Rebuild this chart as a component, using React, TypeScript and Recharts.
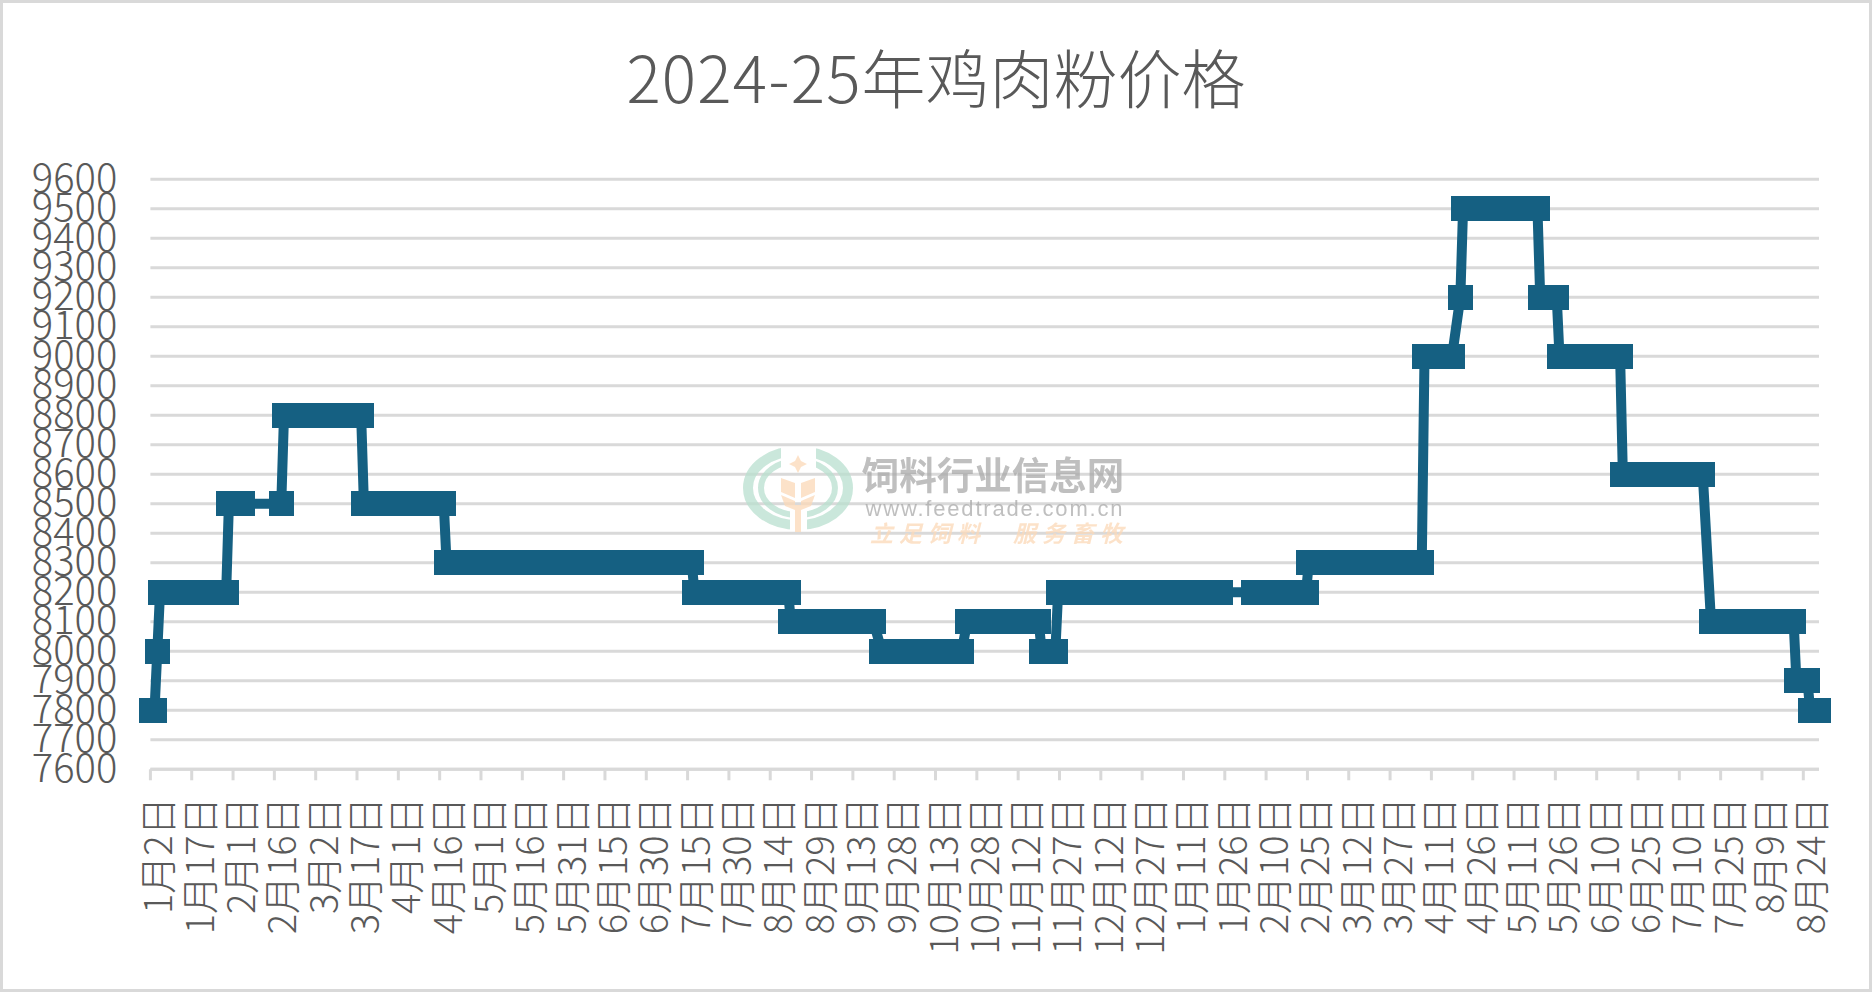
import { LineChart, Line, XAxis, YAxis, CartesianGrid } from "recharts";

const FONT = '"Noto Sans CJK SC", "Noto Sans", sans-serif';
const TEXT = "#595959";
const GRID = "#d9d9d9";
const LINE = "#156082";

const titleYears = "2024-25";
const titleName = "年鸡肉粉价格";

const tickLabels = [
  "1月2日", "1月17日", "2月1日", "2月16日", "3月2日", "3月17日", "4月1日", "4月16日", "5月1日", "5月16日", "5月31日",
  "6月15日", "6月30日", "7月15日", "7月30日", "8月14日", "8月29日", "9月13日", "9月28日", "10月13日", "10月28日",
  "11月12日", "11月27日", "12月12日", "12月27日", "1月11日", "1月26日", "2月10日", "2月25日", "3月12日", "3月27日",
  "4月11日", "4月26日", "5月11日", "5月26日", "6月10日", "6月25日", "7月10日", "7月25日", "8月9日", "8月24日",
];
const tickDays = [
  0, 15, 30, 45, 60, 75, 90, 105, 120, 135, 150, 165, 180, 195, 210, 225, 240, 255, 270, 285, 300,
  315, 330, 345, 360, 375, 390, 405, 420, 435, 450, 465, 480, 495, 510, 525, 540, 555, 570, 585, 600,
];
const priceTicks = [
  7600, 7700, 7800, 7900, 8000, 8100, 8200, 8300, 8400, 8500, 8600, 8700, 8800, 8900, 9000, 9100, 9200, 9300, 9400,
  9500, 9600,
];

// days since 2 Jan 2024, same order as prices below
const days = [
  0, 1,
  2,
  3, 10, 17, 22, 27,
  28, 33,
  47,
  48, 55, 62, 69, 76,
  77, 84, 91, 98, 102, 106,
  107, 114, 121, 128, 135, 142, 149, 156, 163, 170, 177, 184, 190, 196,
  197, 204, 211, 218, 225, 231,
  232, 239, 246, 253, 258, 262,
  265, 272, 279, 286, 290, 294,
  296, 303, 310, 317, 322,
  323, 328,
  329, 336, 343, 350, 357, 364, 371, 378, 383, 388,
  400, 407, 414, 419,
  420, 427, 434, 441, 448, 455, 461,
  462, 467, 472,
  475,
  476, 483, 490, 497, 503,
  504, 510,
  511, 518, 525, 529, 533,
  534, 541, 548, 555, 559, 563,
  566, 573, 580, 587, 592, 596,
  597, 601,
  602, 605,
];
const prices = [
  7800, 7800,
  8000,
  8200, 8200, 8200, 8200, 8200,
  8500, 8500,
  8500,
  8800, 8800, 8800, 8800, 8800,
  8500, 8500, 8500, 8500, 8500, 8500,
  8300, 8300, 8300, 8300, 8300, 8300, 8300, 8300, 8300, 8300, 8300, 8300, 8300, 8300,
  8200, 8200, 8200, 8200, 8200, 8200,
  8100, 8100, 8100, 8100, 8100, 8100,
  8000, 8000, 8000, 8000, 8000, 8000,
  8100, 8100, 8100, 8100, 8100,
  8000, 8000,
  8200, 8200, 8200, 8200, 8200, 8200, 8200, 8200, 8200, 8200,
  8200, 8200, 8200, 8200,
  8300, 8300, 8300, 8300, 8300, 8300, 8300,
  9000, 9000, 9000,
  9200,
  9500, 9500, 9500, 9500, 9500,
  9200, 9200,
  9000, 9000, 9000, 9000, 9000,
  8600, 8600, 8600, 8600, 8600, 8600,
  8100, 8100, 8100, 8100, 8100, 8100,
  7900, 7900,
  7800, 7800,
];

// excel date axis puts a point in the middle of its day
const chartData = days.map((d, i) => ({ pos: d + 0.5, price: prices[i] }));

function SquareDot({ cx, cy }: { cx?: number; cy?: number }) {
  // crisp edges so overlapping squares read as one solid bar
  return <rect x={(cx ?? 0) - 12.5} y={(cy ?? 0) - 12.5} width={25} height={25} fill={LINE} shapeRendering="crispEdges" />;
}

function DateTick({ x, y, payload }: { x?: number; y?: number; payload?: { value: number } }) {
  const label = tickLabels[tickDays.indexOf(payload?.value ?? 0)];
  const tx = (x ?? 0) + 5.5;
  const ty = (y ?? 0) + 15;
  return (
    <text
      x={tx}
      y={ty}
      transform={`rotate(-90 ${tx} ${ty})`}
      textAnchor="end"
      dominantBaseline="central"
      fontFamily={FONT}
      fontWeight={300}
      fontSize={38}
      fill={TEXT}
    >
      {label}
    </text>
  );
}

function Watermark() {
  return (
    <svg width={1872} height={992} style={{ position: "absolute", left: 0, top: 0, pointerEvents: "none" }}>
      <defs>
        <mask id="ringGap">
          <rect x={730} y={430} width={140} height={120} fill="#fff" />
          <rect x={781} y={430} width={35} height={50} fill="#000" />
          <rect x={790} y={490} width={17} height={60} fill="#000" />
        </mask>
      </defs>
      <g opacity={0.75} fill="none" stroke="#b9e0cf" mask="url(#ringGap)">
        <ellipse cx={798} cy={488} rx={50} ry={37} strokeWidth={10} />
        <ellipse cx={798} cy={488} rx={37} ry={27} strokeWidth={6} />
      </g>
      <g fill="#fcd9b8" opacity={0.75}>
        <path d="M798 455 L801 461 L807 464 L801 467 L798 473 L795 467 L789 464 L795 461 Z" />
        <path d="M781 478 L795 483 L795 498 L781 492 Z" />
        <path d="M815 478 L801 483 L801 498 L815 492 Z" />
        <path d="M781 495 L795 501 L795 510 L785 506 Z" />
        <path d="M815 495 L801 501 L801 510 L811 506 Z" />
        <rect x={795} y={505} width={6} height={27} />
      </g>
      <g fontFamily={FONT}>
        <text x={993} y={489} textAnchor="middle" fontSize={37.5} fontWeight={700} fill="#aaaaaa" opacity={0.75}>
          饲料行业信息网
        </text>
        <text
          x={994}
          y={516}
          textAnchor="middle"
          fontSize={22}
          fontFamily='"Liberation Sans", sans-serif'
          fill="#aaaaaa"
          opacity={0.75}
          textLength={257}
        >
          www.feedtrade.com.cn
        </text>
        <g fontSize={23} fontWeight={700} fontStyle="italic" fill="#fcd9b8" opacity={0.75} letterSpacing={6}>
          <text x={870} y={542}>立足饲料</text>
          <text x={1013} y={542}>服务畜牧</text>
        </g>
      </g>
    </svg>
  );
}

export default function App() {
  return (
    <div style={{ position: "absolute", left: 0, top: 0, width: 1872, height: 992, background: "#fff", overflow: "hidden" }}>
      <LineChart width={1872} height={992} data={chartData} margin={{ top: 179.3, right: 53, bottom: 0, left: 0 }}>
        <text x={936} y={75} textAnchor="middle" dominantBaseline="central" fontFamily={FONT} fontWeight={300} fontSize={64} fill={TEXT}>
          <tspan letterSpacing={1.2}>{titleYears}</tspan>
          <tspan>{titleName}</tspan>
        </text>
        <CartesianGrid vertical={false} stroke={GRID} strokeWidth={3} />
        <XAxis
          dataKey="pos"
          type="number"
          domain={[0, 605.7]}
          ticks={tickDays}
          interval={0}
          height={222.7}
          tickSize={11}
          axisLine={{ stroke: GRID, strokeWidth: 3 }}
          tickLine={{ stroke: GRID, strokeWidth: 3 }}
          tick={<DateTick />}
        />
        <YAxis
          type="number"
          domain={[7600, 9600]}
          ticks={priceTicks}
          interval={0}
          width={150.4}
          axisLine={false}
          tickLine={false}
          tickSize={0}
          tickMargin={33}
          tick={{ fill: TEXT, fontSize: 40, fontFamily: FONT, fontWeight: 300, dy: -2 }}
        />
        <Line
          type="linear"
          dataKey="price"
          stroke={LINE}
          strokeWidth={10}
          dot={<SquareDot />}
          activeDot={false}
          isAnimationActive={false}
        />
      </LineChart>
      <Watermark />
      <div style={{ position: "absolute", inset: 0, border: `3px solid ${GRID}`, boxSizing: "border-box", pointerEvents: "none" }} />
    </div>
  );
}
